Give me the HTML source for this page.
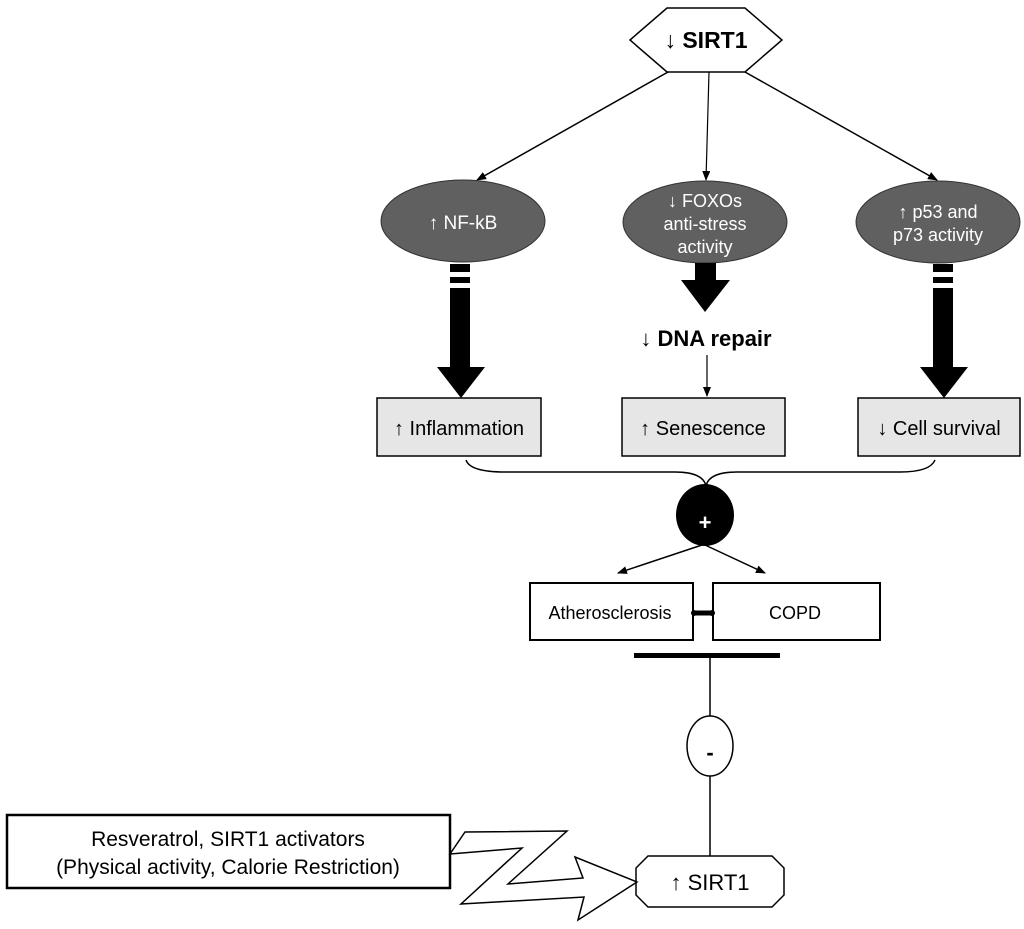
<!DOCTYPE html>
<html><head><meta charset="utf-8"><style>
html,body{margin:0;padding:0;background:#fff;}
svg{display:block;font-family:"Liberation Sans",Arial,sans-serif;}
</style></head><body>
<svg width="1024" height="929" viewBox="0 0 1024 929" xmlns="http://www.w3.org/2000/svg">
<defs>
<marker id="ah" markerWidth="10" markerHeight="8" refX="9" refY="4" orient="auto" markerUnits="userSpaceOnUse">
<path d="M0,0 L10,4 L0,8 Z" fill="#000"/></marker>
</defs>
<polygon points="630,40 667,8 745,8 782,40 745,72 667,72" fill="#fff" stroke="#000" stroke-width="1.5"/>
<text x="706" y="48" text-anchor="middle" font-size="23" font-weight="bold">↓ SIRT1</text>
<line x1="668" y1="72" x2="477" y2="180" stroke="#000" stroke-width="1.5" marker-end="url(#ah)"/>
<line x1="709" y1="72" x2="706" y2="180" stroke="#000" stroke-width="1.2" marker-end="url(#ah)"/>
<line x1="745" y1="72" x2="937" y2="180" stroke="#000" stroke-width="1.5" marker-end="url(#ah)"/>
<ellipse cx="463" cy="221" rx="82" ry="41" fill="#606060" stroke="#333"/>
<text x="463" y="229" text-anchor="middle" font-size="19" fill="#fff">↑ NF-kB</text>
<ellipse cx="705" cy="222" rx="82" ry="41" fill="#606060" stroke="#333"/>
<text x="705" y="207" text-anchor="middle" font-size="18" fill="#fff">↓ FOXOs</text>
<text x="705" y="230" text-anchor="middle" font-size="18" fill="#fff">anti-stress</text>
<text x="705" y="253" text-anchor="middle" font-size="18" fill="#fff">activity</text>
<ellipse cx="938" cy="222" rx="82" ry="41" fill="#606060" stroke="#333"/>
<text x="938" y="218" text-anchor="middle" font-size="18" fill="#fff">↑ p53 and</text>
<text x="938" y="241" text-anchor="middle" font-size="18" fill="#fff">p73 activity</text>
<g fill="#000">
<rect x="450" y="264" width="20" height="8"/><rect x="450" y="277" width="20" height="6"/>
<rect x="450" y="288" width="20" height="80"/><polygon points="437,367 485,367 461,398"/>
<rect x="933" y="264" width="20" height="8"/><rect x="933" y="277" width="20" height="6"/>
<rect x="933" y="288" width="20" height="80"/><polygon points="920,367 968,367 944,398"/>
<rect x="695" y="263" width="21" height="18"/><polygon points="681,280 730,280 705,312"/>
</g>
<text x="706" y="346" text-anchor="middle" font-size="22" font-weight="bold">↓ DNA repair</text>
<line x1="707" y1="355" x2="707" y2="396" stroke="#000" stroke-width="1.2" marker-end="url(#ah)"/>
<rect x="377" y="398" width="164" height="58" fill="#e6e6e6" stroke="#000" stroke-width="1.5"/>
<text x="459" y="435" text-anchor="middle" font-size="20">↑ Inflammation</text>
<rect x="622" y="398" width="163" height="58" fill="#e6e6e6" stroke="#000" stroke-width="1.5"/>
<text x="703" y="435" text-anchor="middle" font-size="20">↑ Senescence</text>
<rect x="858" y="398" width="162" height="58" fill="#e6e6e6" stroke="#000" stroke-width="1.5"/>
<text x="939" y="435" text-anchor="middle" font-size="20">↓ Cell survival</text>
<path d="M466,460 Q470,472 505,472 L675,472 Q703,472 706,486 Q709,472 737,472 L900,472 Q930,472 935,460" fill="none" stroke="#000" stroke-width="1.5"/>
<ellipse cx="705" cy="515" rx="29" ry="31" fill="#000"/>
<text x="705" y="530" text-anchor="middle" font-size="22" font-weight="bold" fill="#fff">+</text>
<line x1="702" y1="545" x2="618" y2="573" stroke="#000" stroke-width="1.5" marker-end="url(#ah)"/>
<line x1="705" y1="545" x2="765" y2="573" stroke="#000" stroke-width="1.5" marker-end="url(#ah)"/>
<rect x="530" y="583" width="163" height="57" fill="#fff" stroke="#000" stroke-width="2"/>
<text x="610" y="619" text-anchor="middle" font-size="18">Atherosclerosis</text>
<rect x="713" y="583" width="167" height="57" fill="#fff" stroke="#000" stroke-width="2"/>
<text x="795" y="619" text-anchor="middle" font-size="18">COPD</text>
<line x1="696" y1="613" x2="710" y2="613" stroke="#000" stroke-width="5"/>
<circle cx="694" cy="613" r="3" fill="#000"/><circle cx="712" cy="613" r="3" fill="#000"/>
<rect x="634" y="653" width="146" height="5" fill="#000"/>
<line x1="710" y1="656" x2="710" y2="716" stroke="#000" stroke-width="1.5"/>
<ellipse cx="710" cy="746" rx="23" ry="30" fill="#fff" stroke="#000" stroke-width="1.5"/>
<text x="710" y="760" text-anchor="middle" font-size="22" font-weight="bold">-</text>
<line x1="710" y1="776" x2="710" y2="856" stroke="#000" stroke-width="1.5"/>
<polygon points="648,856 772,856 784,868 784,895 772,907 648,907 636,895 636,868" fill="#fff" stroke="#000" stroke-width="1.5"/>
<text x="710" y="890" text-anchor="middle" font-size="22">↑ SIRT1</text>
<rect x="7" y="815" width="443" height="73" fill="#fff" stroke="#000" stroke-width="2.5"/>
<text x="228" y="846" text-anchor="middle" font-size="21">Resveratrol, SIRT1 activators</text>
<text x="228" y="874" text-anchor="middle" font-size="21">(Physical activity,  Calorie Restriction)</text>
<polygon points="450,854 465,832 567,831 508,884 583,878 575,857 637,882 578,920 584,897 461,904 522,848" fill="#fff" stroke="#000" stroke-width="1.5"/>
</svg>
</body></html>
